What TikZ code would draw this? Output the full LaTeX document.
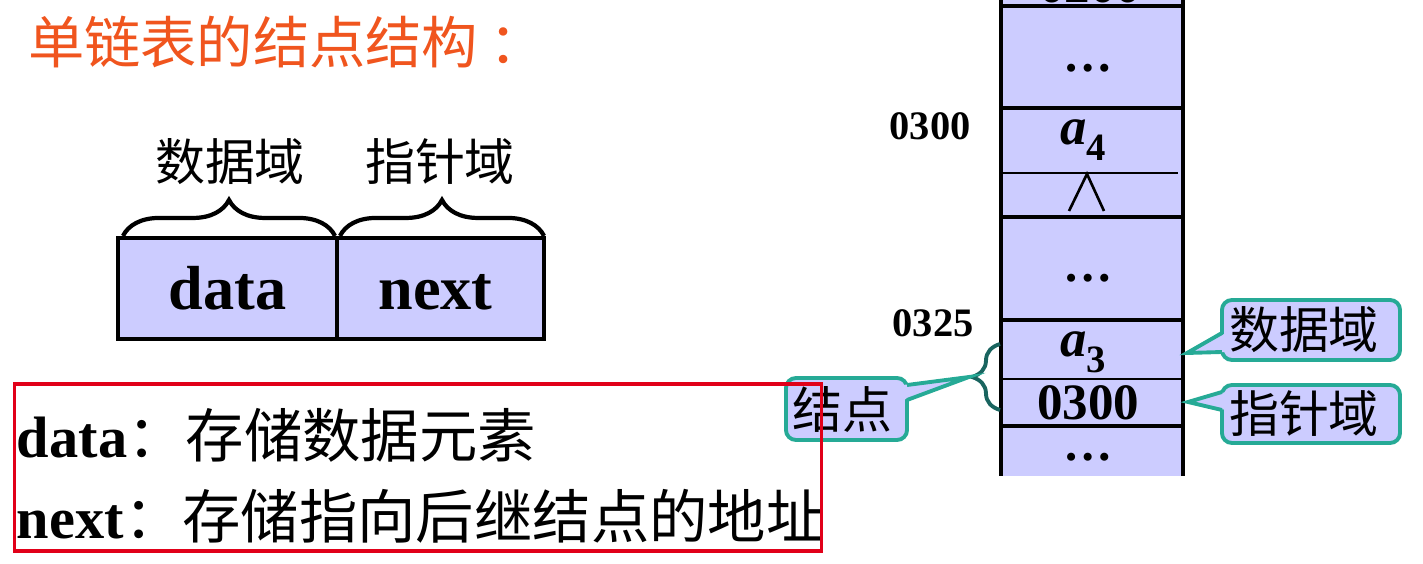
\documentclass[tikz,border=0pt]{standalone}
\usepackage{fontspec}
\setmainfont{Liberation Serif}
\newfontfamily\cjk{Noto Sans CJK SC}
\usetikzlibrary{decorations.pathreplacing,calc}
\definecolor{lav}{RGB}{204,204,255}
\definecolor{titlec}{RGB}{240,85,30}
\definecolor{callc}{RGB}{38,170,150}
\definecolor{bracec}{RGB}{25,100,95}
\definecolor{redc}{RGB}{225,0,25}
\newcommand{\asub}[1]{{\bfseries\itshape a}\raisebox{-0.3em}{\fontsize{11}{11}\selectfont\bfseries #1}}
\tikzset{
 cellbox/.style={draw, fill=lav, line width=1.3pt, minimum height=1.01cm, text height=12.2pt, text depth=0pt, font=\bfseries\fontsize{17.7}{20}\selectfont},
 cjklabel/.style={font=\cjk\fontsize{14.2}{16}\selectfont},
 topbrace/.style={decorate, decoration={brace, amplitude=0.36cm}, line width=1.2pt},
 colbrace/.style={decorate, decoration={brace, amplitude=0.28cm}, draw=bracec, line width=1.1pt},
 memline/.style={line width=1.2pt},
 thinline/.style={line width=0.8pt},
 celltext/.style={anchor=base, font=\bfseries\fontsize{14.5}{16}\selectfont},
 avar/.style={anchor=base, font=\fontsize{15}{16}\selectfont},
 dotstext/.style={anchor=base, font=\bfseries\fontsize{14}{16}\selectfont},
 addr/.style={anchor=base, font=\bfseries\fontsize{11.5}{13}\selectfont},
 callbox/.style={draw=callc, fill=lav, line width=1.1pt, rounded corners=0.1cm, font=\cjk\fontsize{14.2}{16}\selectfont},
 wedgefill/.style={fill=lav},
 wedgeline/.style={draw=callc, line width=1.1pt, line join=miter},
 nullsym/.style={line width=0.75pt},
 bodytext/.style={anchor=base west, font=\fontsize{16.6}{20}\selectfont},
}
\begin{document}
\begin{tikzpicture}[x=0.01cm,y=-0.01cm, every node/.style={inner sep=0pt, outer sep=0pt}]
\useasboundingbox (0,0) rectangle (1423,564);
\clip (0,0) rectangle (1423,564);

% title
\node[anchor=west, text=titlec, font=\cjk\fontsize{16}{18}\selectfont] (title) at (28,42) {单链表的结点结构\hspace{0.2em}：};

% node structure
\node[cellbox, minimum width=2.19cm] (databox) at (227.5,288.5) {data};
\node[cellbox, minimum width=2.07cm] (nextbox) at (440.5,288.5) {next\kern0.1cm};
\draw[topbrace] ($(databox.north west)+(5,-2)$) -- ($(databox.north east)+(-2,-2)$);
\draw[topbrace] ($(nextbox.north west)+(3,-2)$) -- ($(nextbox.north east)+(0,-2)$);
\node[cjklabel] (lbldata) at (230,162) {数据域};
\node[cjklabel] (lblnext) at (440,162) {指针域};

% memory column
\fill[lav] (1001,-10) rectangle (1183,476);
\draw[memline] (1001,-10) -- (1001,476);
\draw[memline] (1183,-10) -- (1183,476);
\foreach \yy in {6,108,217,320,426} { \draw[memline] (1001,\yy) -- (1183,\yy); }
\draw[thinline] (1003,173) -- (1178,173);
\draw[thinline] (1001,379) -- (1183,379);

\node[celltext] (ctop) at (1090,3) {0200};
\node[dotstext] (dots1) at (1088,72) {…};
\node[avar] (a4) at (1083,145) {\asub{4}};
\draw[nullsym] (1069,211) -- (1087,174) -- (1104,211);
\node[dotstext] (dots2) at (1088,282) {…};
\node[avar] (a3) at (1083,357) {\asub{3}};
\node[celltext] (ptr) at (1088,420) {0300};
\node[dotstext] (dots3) at (1088,461) {…};

\node[addr] (addr1) at (930,140) {0300};
\node[addr] (addr2) at (933,337) {0325};

% brace for the node
\draw[colbrace] (1000,410) -- (1000,344);
\coordinate (nodetip) at (969,377);
\coordinate (datatip) at (1187,353);
\coordinate (ptrtip) at (1188,402);

% callouts
\node[callbox, minimum width=1.21cm, minimum height=0.62cm] (cnode) at (846.5,409) {结点\kern0.08cm};
\fill[wedgefill] ($(cnode.east)+(-4,-24)$) -- (nodetip) -- ($(cnode.east)+(-4,-9)$) -- cycle;
\draw[wedgeline] ($(cnode.east)+(0,-24)$) -- (nodetip) -- ($(cnode.east)+(0,-9)$);

\node[callbox, minimum width=1.78cm, minimum height=0.60cm] (cdata) at (1311,330) {数据域\kern0.14cm};
\fill[wedgefill] ($(cdata.west)+(4,3)$) -- (datatip) -- ($(cdata.west)+(4,22)$) -- cycle;
\draw[wedgeline] ($(cdata.west)+(0,3)$) -- (datatip) -- ($(cdata.west)+(0,22)$);

\node[callbox, minimum width=1.78cm, minimum height=0.58cm] (cptr) at (1311,414) {指针域\kern0.14cm};
\fill[wedgefill] ($(cptr.west)+(4,-22)$) -- (ptrtip) -- ($(cptr.west)+(4,-4)$) -- cycle;
\draw[wedgeline] ($(cptr.west)+(0,-22)$) -- (ptrtip) -- ($(cptr.west)+(0,-4)$);

% explanation
\node[bodytext] (line1) at (17,458) {\textbf{data}{\cjk：存储数据元素}};
\node[bodytext] (line2) at (17,538) {\textbf{next}{\cjk：存储指向后继结点的地址}};
\node[draw=redc, line width=0.9pt, minimum width=8.06cm, minimum height=1.67cm] (frame) at (418,467.5) {};
\end{tikzpicture}
\end{document}
